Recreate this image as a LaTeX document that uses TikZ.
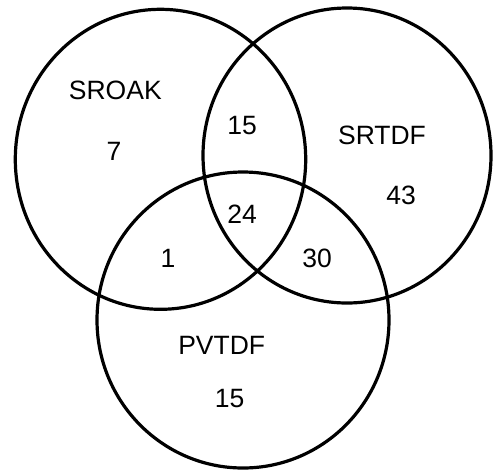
\documentclass[tikz,border=0pt]{standalone}
\usepackage{fontspec}
\setmainfont{Liberation Sans}
\begin{document}
\begin{tikzpicture}[x=1pt,y=-1pt,
  ring/.style={line width=3.2pt, draw=black},
  lbl/.style={font=\fontsize{26.5}{30}\selectfont, inner sep=0pt, anchor=center}]
\useasboundingbox (0,0) rectangle (494,472);
% the three sets
\draw[ring] (160.5,159.3) ellipse [x radius=145.2, y radius=150];
\draw[ring] (347,155.5) ellipse [x radius=144, y radius=147.5];
\draw[ring] (243,320) ellipse [x radius=146, y radius=148];
% set names
\node[lbl] (sroak) at (115.3,90) {SROAK};
\node[lbl] (srtdf) at (382,135) {SRTDF};
\node[lbl] (pvtdf) at (221.7,345) {PVTDF};
% counts
\node[lbl] (nA) at (114,151.7) {7};
\node[lbl] (nAB) at (242,126) {15};
\node[lbl] (nB) at (401,195) {43};
\node[lbl] (nABC) at (242,214) {24};
\node[lbl] (nAC) at (168,258) {1};
\node[lbl] (nBC) at (317,258) {30};
\node[lbl] (nC) at (229.7,399) {15};
\end{tikzpicture}
\end{document}
